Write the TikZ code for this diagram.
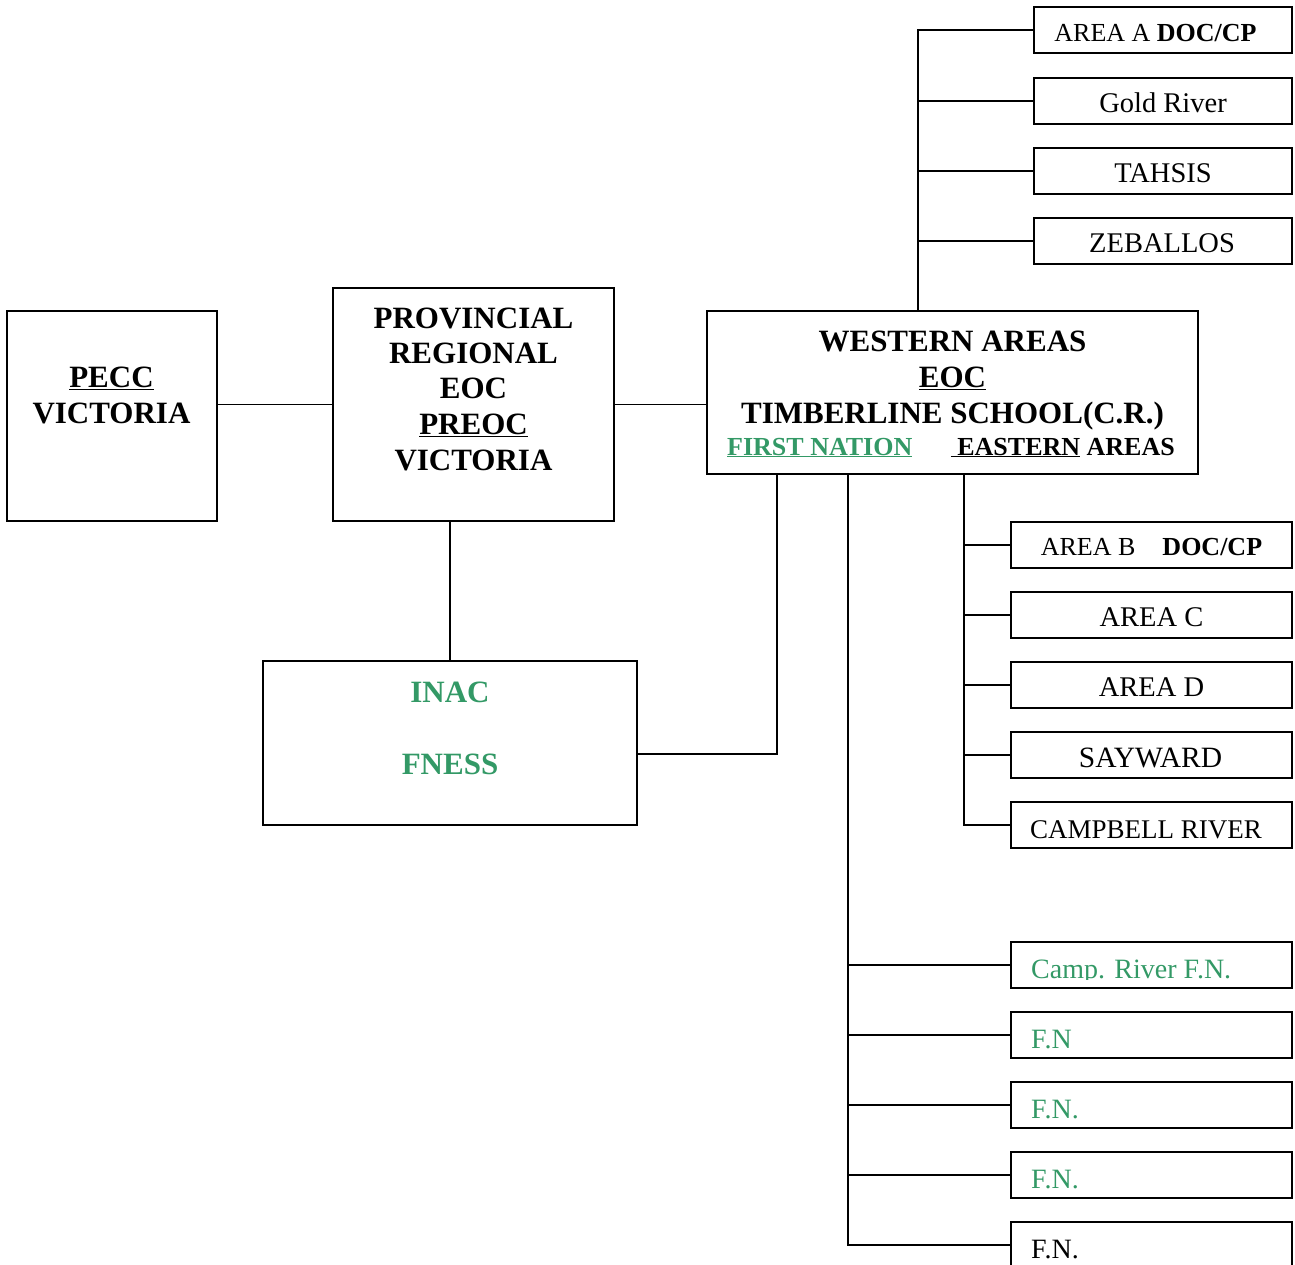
\documentclass[tikz,border=0pt]{standalone}
\usepackage{fontspec}
\setmainfont{Liberation Serif}
\definecolor{fngreen}{RGB}{51,153,102}
\tikzset{
  box/.style={draw, line width=1.6pt, inner sep=0pt, outer sep=0pt, anchor=north west},
  link/.style={line width=1.6pt},
  big/.style={inner sep=0pt, anchor=base, font=\fontsize{31}{36}\selectfont\bfseries},
  mid/.style={inner sep=0pt, anchor=base, font=\fontsize{26}{30}\selectfont\bfseries},
  small/.style={inner sep=0pt, anchor=base, font=\fontsize{26}{30}\selectfont},
  med/.style={inner sep=0pt, anchor=base, font=\fontsize{28.5}{32}\selectfont},
  medL/.style={med, anchor=base west, font=\fontsize{28}{32}\selectfont},
}
\begin{document}
\begin{tikzpicture}[x=1pt,y=-1pt]
\useasboundingbox (0,0) rectangle (1295,1265);
% main boxes
\node[box, minimum width=210pt, minimum height=210pt] (pecc) at (7,311) {};
\node[box, minimum width=281pt, minimum height=233pt] (prov) at (333,288) {};
\node[box, minimum width=491pt, minimum height=163pt] (west) at (707,311) {};
\node[box, minimum width=374pt, minimum height=164pt] (inac) at (263,661) {};
% western boxes
\node[box, minimum width=258pt, minimum height=46pt] (areaA) at (1034,7) {};
\node[box, minimum width=258pt, minimum height=46pt] (gold) at (1034,78) {};
\node[box, minimum width=258pt, minimum height=46pt] (tahsis) at (1034,148) {};
\node[box, minimum width=258pt, minimum height=46pt] (zeb) at (1034,218) {};
% eastern boxes
\node[box, minimum width=281pt, minimum height=46pt] (areaB) at (1011,522) {};
\node[box, minimum width=281pt, minimum height=46pt] (areaC) at (1011,592) {};
\node[box, minimum width=281pt, minimum height=46pt] (areaD) at (1011,662) {};
\node[box, minimum width=281pt, minimum height=46pt] (say) at (1011,732) {};
\node[box, minimum width=281pt, minimum height=46pt] (camp) at (1011,802) {};
% first nation boxes
\node[box, minimum width=281pt, minimum height=46pt] (fn1) at (1011,942) {};
\node[box, minimum width=281pt, minimum height=46pt] (fn2) at (1011,1012) {};
\node[box, minimum width=281pt, minimum height=46pt] (fn3) at (1011,1082) {};
\node[box, minimum width=281pt, minimum height=46pt] (fn4) at (1011,1152) {};
\node[box, minimum width=281pt, minimum height=46pt] (fn5) at (1011,1222) {};
% texts
\node[big] (t1) at (111.5,387) {\underline{PECC}};
\node[big] (t2) at (111.5,423) {VICTORIA};
\node[big] (p1) at (473.5,328) {PROVINCIAL};
\node[big] (p2) at (473.5,363) {REGIONAL};
\node[big] (p3) at (473.5,398) {EOC};
\node[big] (p4) at (473.5,434) {\underline{PREOC}};
\node[big] (p5) at (473.5,470) {VICTORIA};
\node[big] (w1) at (952.5,351) {WESTERN AREAS};
\node[big] (w2) at (952.5,387) {\underline{EOC}};
\node[big] (w3) at (952.5,423) {TIMBERLINE SCHOOL(C.R.)};
\node[mid, anchor=base west, text=fngreen] (w4) at (727,455) {\underline{FIRST NATION}};
\node[mid, anchor=base east] (w5) at (1175,455) {\underline{\ EASTERN} AREAS};
\node[big, text=fngreen] (i1) at (450,702) {INAC};
\node[big, text=fngreen] (i2) at (450,774) {FNESS};
\node[small] (a1) at (1155.5,42) {AREA A \textbf{DOC/CP}};
\node[med] (a2) at (1163,113) {Gold River};
\node[med] (a3) at (1163,183) {TAHSIS};
\node[med] (a4) at (1162,253) {ZEBALLOS};
\node[small] (b1) at (1151.5,555) {AREA B\hspace{27pt}\textbf{DOC/CP}};
\node[med] (b2) at (1151.5,626) {AREA C};
\node[med] (b3) at (1151.5,696) {AREA D};
\node[med, font=\fontsize{29.5}{32}\selectfont] (b4) at (1150.5,767) {SAYWARD};
\node[med, font=\fontsize{27}{32}\selectfont] (b5) at (1146,838) {CAMPBELL RIVER};
\begin{scope}
\clip (1011,940) rectangle (1292,979);
\node[medL, text=fngreen] (f1) at (1031,978) {Camp. River F.N.};
\end{scope}
\node[medL, text=fngreen] (f2) at (1031,1048) {F.N};
\node[medL, text=fngreen] (f3) at (1031,1118) {F.N.};
\node[medL, text=fngreen] (f4) at (1031,1188) {F.N.};
\node[medL] (f5) at (1031,1258) {F.N.};
% bus coordinates
\coordinate (wbus) at (918,0);
\coordinate (ebus) at (964,0);
\coordinate (fbus) at (848,0);
\coordinate (ibus) at (777,754);
% connectors
\draw[link] (prov.west) -- (prov.west -| pecc.east);
\draw[link] (prov.east) -- (prov.east -| west.west);
\draw[link] (inac.north) -- (inac.north |- prov.south);
\draw[link] (west.south -| ibus) -- (ibus) -- (ibus -| inac.east);
\draw[link] (west.north -| wbus) -- (areaA.west -| wbus) -- (areaA.west);
\foreach \b in {gold,tahsis,zeb} \draw[link] (\b.west -| wbus) -- (\b.west);
\draw[link] (west.south -| ebus) -- (camp.west -| ebus) -- (camp.west);
\foreach \b in {areaB,areaC,areaD,say} \draw[link] (\b.west -| ebus) -- (\b.west);
\draw[link] (west.south -| fbus) -- (fn5.west -| fbus) -- (fn5.west);
\foreach \b in {fn1,fn2,fn3,fn4} \draw[link] (\b.west -| fbus) -- (\b.west);
\end{tikzpicture}
\end{document}
